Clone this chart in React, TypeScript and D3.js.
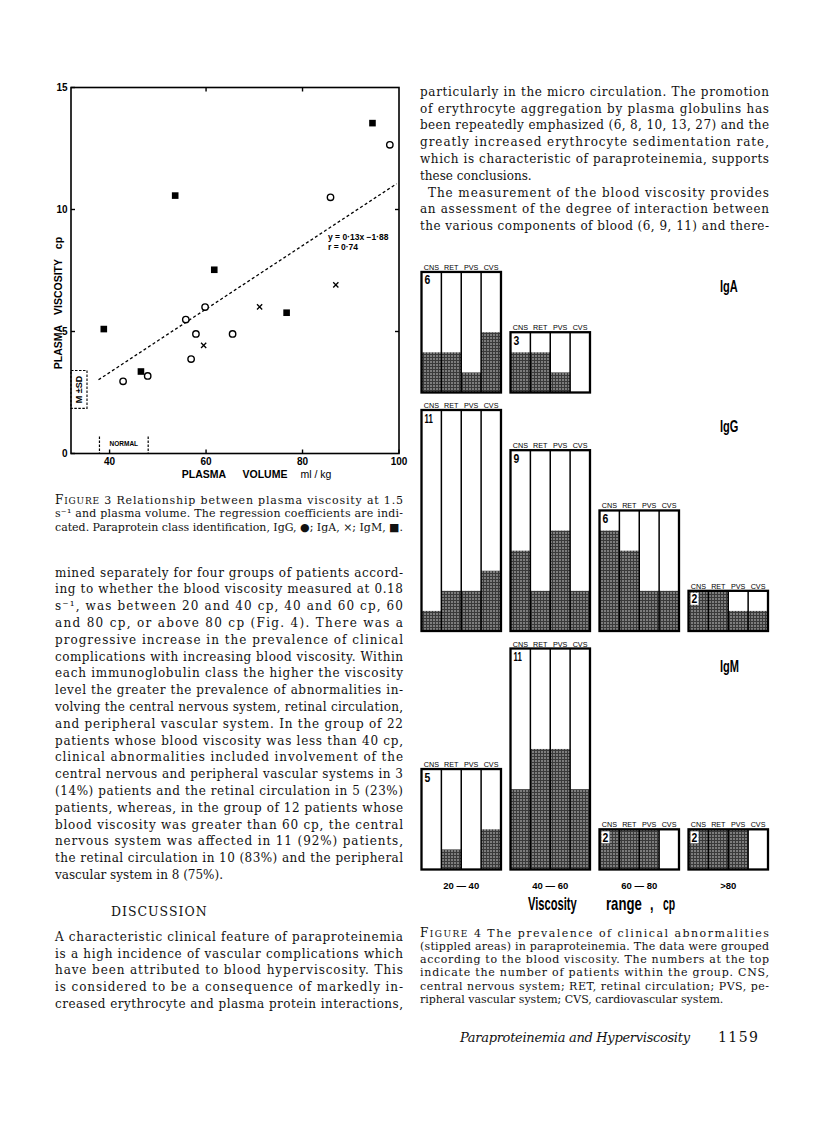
import React from 'react';
import * as d3 from 'd3';

// ---- Figure 3: plasma viscosity vs plasma volume ----
const iggVolume = [42.8, 47.9, 55.8, 57.9, 56.9, 59.8, 65.5, 85.8, 98.1];
const iggViscosity = [2.96, 3.18, 5.49, 4.9, 3.87, 6.0, 4.9, 10.5, 12.65];
const igaVolume = [59.5, 71.1, 86.9];
const igaViscosity = [4.43, 6.01, 6.91];
const igmVolume = [38.8, 53.6, 61.7, 46.5, 76.7, 94.5];
const igmViscosity = [5.1, 10.57, 7.53, 3.36, 5.77, 13.54];
const regressionSlope = 0.13;
const regressionIntercept = -1.88;
const regressionRange = [37.7, 99.5];
const normalVolume = [37.9, 48];
const normalViscosity = [1.85, 3.4];
const volumeTicks = [40, 60, 80, 100];
const viscosityTicks = [0, 5, 10, 15];

// ---- Figure 4: prevalence of abnormalities ----
const systems = ['CNS', 'RET', 'PVS', 'CVS'];
const viscosityRanges = ['20 — 40', '40 — 60', '60 — 80', '>80'];
const igClasses = ['IgA', 'IgG', 'IgM'];
const igaPatients = [6, 3];
const igaAffected = [[2, 2, 1, 3], [2, 2, 1, 0]];
const iggPatients = [11, 9, 6, 2];
const iggAffected = [[1, 2, 2, 3], [4, 2, 5, 2], [5, 4, 2, 2], [2, 2, 1, 1]];
const igmPatients = [5, 11, 2, 2];
const igmAffected = [[0, 1, 0, 2], [4, 6, 6, 4], [2, 2, 2, 0], [2, 2, 2, 0]];
const fig4AxisWords = ['Viscosity', 'range', ',', 'cp'];

// ---- page text ----
const rightTopLines = [
  'particularly in the micro circulation. The promotion',
  'of erythrocyte aggregation by plasma globulins has',
  'been repeatedly emphasized (6, 8, 10, 13, 27) and the',
  'greatly increased erythrocyte sedimentation rate,',
  'which is characteristic of paraproteinemia, supports',
  'these conclusions.',
  'The measurement of the blood viscosity provides',
  'an assessment of the degree of interaction between',
  'the various components of blood (6, 9, 11) and there-',
];
const fig3CaptionLines = [
  ' 3  Relationship between plasma viscosity at 1.5',
  's⁻¹ and plasma volume. The regression coefficients are indi-',
  'cated. Paraprotein class identification, IgG, ●; IgA, ×; IgM, ■.',
];
const leftBodyLines = [
  'mined separately for four groups of patients accord-',
  'ing to whether the blood viscosity measured at 0.18',
  's⁻¹, was between 20 and 40 cp, 40 and 60 cp, 60',
  'and 80 cp, or above 80 cp (Fig. 4). There was a',
  'progressive increase in the prevalence of clinical',
  'complications with increasing blood viscosity. Within',
  'each immunoglobulin class the higher the viscosity',
  'level the greater the prevalence of abnormalities in-',
  'volving the central nervous system, retinal circulation,',
  'and peripheral vascular system. In the group of 22',
  'patients whose blood viscosity was less than 40 cp,',
  'clinical abnormalities included involvement of the',
  'central nervous and peripheral vascular systems in 3',
  '(14%) patients and the retinal circulation in 5 (23%)',
  'patients, whereas, in the group of 12 patients whose',
  'blood viscosity was greater than 60 cp, the central',
  'nervous system was affected in 11 (92%) patients,',
  'the retinal circulation in 10 (83%) and the peripheral',
  'vascular system in 8 (75%).',
];
const discussionLines = [
  'A characteristic clinical feature of paraproteinemia',
  'is a high incidence of vascular complications which',
  'have been attributed to blood hyperviscosity. This',
  'is considered to be a consequence of markedly in-',
  'creased erythrocyte and plasma protein interactions,',
];
const fig4CaptionLines = [
  ' 4  The prevalence of clinical abnormalities',
  '(stippled areas) in paraproteinemia. The data were grouped',
  'according to the blood viscosity. The numbers at the top',
  'indicate the number of patients within the group. CNS,',
  'central nervous system; RET, retinal circulation; PVS, pe-',
  'ripheral vascular system; CVS, cardiovascular system.',
];

const serif = "'DejaVu Serif', 'Liberation Serif', serif";
const sans = "'Liberation Sans', Arial, sans-serif";

const Lines = ({ lines, x, y, width, lh, size, ragged = [], indent = {} }) => (
  <g fontFamily={serif} fontSize={size} fill="#111">
    {lines.map((t, i) => {
      const dx = indent[i] || 0;
      const just = !ragged.includes(i);
      return (
        <text key={i} x={x + dx} y={y + i * lh}
          {...(just ? { textLength: width - dx, lengthAdjust: 'spacing' } : {})}>
          {t}
        </text>
      );
    })}
  </g>
);

const Figure3 = () => {
  const x = d3.scaleLinear().domain([32, 100]).range([71, 399]);
  const y = d3.scaleLinear().domain([0, 15]).range([453.5, 87.5]);
  const regLine = d3.line()(regressionRange.map(v => [x(v), y(regressionSlope * v + regressionIntercept)]));
  return (
    <g>
      <rect x={x(32)} y={y(15)} width={x(100) - x(32)} height={y(0) - y(15)} fill="none" stroke="#000" strokeWidth={1.6} />
      {viscosityTicks.map(v => (
        <g key={v}>
          <line x1={x(32)} x2={x(32) + 4} y1={y(v)} y2={y(v)} stroke="#000" strokeWidth={1.4} />
          {v > 0 && v < 15 && <line x1={x(100)} x2={x(100) - 4} y1={y(v)} y2={y(v)} stroke="#000" strokeWidth={1.4} />}
          <text x={x(32) - 3.5} y={y(v) + 3.5} textAnchor="end" fontFamily={sans} fontWeight="bold" fontSize={10}>{v}</text>
        </g>
      ))}
      {volumeTicks.map(v => (
        <g key={v}>
          <line x1={x(v)} x2={x(v)} y1={y(0)} y2={y(0) - 4} stroke="#000" strokeWidth={1.4} />
          {v < 100 && v > 40 && <line x1={x(v)} x2={x(v)} y1={y(15)} y2={y(15) + 4} stroke="#000" strokeWidth={1.4} />}
          <text x={x(v)} y={y(0) + 11} textAnchor="middle" fontFamily={sans} fontWeight="bold" fontSize={10}>{v}</text>
        </g>
      ))}
      {/* normal range markers */}
      <rect x={x(32)} y={y(normalViscosity[1])} width={16} height={y(normalViscosity[0]) - y(normalViscosity[1])}
        fill="none" stroke="#000" strokeWidth={1.1} strokeDasharray="2.5,1.5" />
      <text transform={`translate(${x(32) + 11},${(y(normalViscosity[0]) + y(normalViscosity[1])) / 2}) rotate(-90)`}
        textAnchor="middle" fontFamily={sans} fontWeight="bold" fontSize={9}>M ±SD</text>
      {normalVolume.map(v => (
        <line key={v} x1={x(v)} x2={x(v)} y1={y(0) - 17} y2={y(0)} stroke="#000" strokeWidth={1.2} strokeDasharray="2.5,1.5" />
      ))}
      <text x={(x(normalVolume[0]) + x(normalVolume[1])) / 2} y={y(0) - 8} textAnchor="middle"
        fontFamily={sans} fontWeight="bold" fontSize={6.5}>NORMAL</text>
      <path d={regLine} fill="none" stroke="#000" strokeWidth={1.3} strokeDasharray="3,2.4" />
      <text x={328} y={240} fontFamily={sans} fontWeight="bold" fontSize={8.5}>y  =  0·13x −1·88</text>
      <text x={328} y={249.5} fontFamily={sans} fontWeight="bold" fontSize={8.5}>r   =  0·74</text>
      {igmVolume.map((v, i) => (
        <rect key={'m' + i} x={x(v) - 3.3} y={y(igmViscosity[i]) - 3.3} width={6.6} height={6.6} fill="#000" />
      ))}
      {iggVolume.map((v, i) => (
        <circle key={'g' + i} cx={x(v)} cy={y(iggViscosity[i])} r={3.2} fill="#fff" stroke="#000" strokeWidth={1.4} />
      ))}
      {igaVolume.map((v, i) => (
        <path key={'a' + i} d={`M${x(v) - 2.6},${y(igaViscosity[i]) - 2.6}l5.2,5.2M${x(v) + 2.6},${y(igaViscosity[i]) - 2.6}l-5.2,5.2`}
          stroke="#000" strokeWidth={1.3} />
      ))}
      <g fontFamily={sans} fontWeight="bold" fontSize={10.5} textAnchor="middle">
        <text transform="translate(61.5,347) rotate(-90)">PLASMA</text>
        <text transform="translate(61.5,287) rotate(-90)">VISCOSITY</text>
        <text transform="translate(61.5,243) rotate(-90)">cp</text>
        <text x={204} y={478}>PLASMA</text>
        <text x={265} y={478}>VOLUME</text>
        <text x={316} y={478} fontWeight="normal">ml / kg</text>
      </g>
    </g>
  );
};

const Figure4 = () => {
  const xr = d3.scaleBand().domain(viscosityRanges).range([421.5, 768]).paddingInner(0.107);
  const xs = d3.scaleBand().domain(systems).range([0, xr.bandwidth()]);
  const h = d3.scaleLinear().domain([0, 11]).range([0, 221]);
  const base = d3.scalePoint().domain(igClasses).range([392.5, 869.5]);
  const classData = [
    { name: 'IgA', patients: igaPatients, affected: igaAffected, labelUp: 107 },
    { name: 'IgG', patients: iggPatients, affected: iggAffected, labelUp: 205 },
    { name: 'IgM', patients: igmPatients, affected: igmAffected, labelUp: 204 },
  ];
  // left edge and horizontal squeeze of each word of the axis title
  const wordPos = [[528, 0.62], [606, 0.73], [650, 0.7], [663, 0.58]];
  return (
    <g>
      <defs>
        <pattern id="stipple" width={3} height={3} patternUnits="userSpaceOnUse">
          <rect width={3} height={3} fill="#7d7d7d" />
          <rect width={3} height={1} fill="#3a3a3a" />
          <rect width={1} height={3} fill="#3a3a3a" />
        </pattern>
      </defs>
      {classData.map(c => {
        const b = base(c.name);
        return (
          <g key={c.name}>
            {c.patients.map((n, gi) => {
              const left = xr(viscosityRanges[gi]);
              const top = b - h(n);
              return (
                <g key={gi}>
                  <rect x={left} y={top} width={xr.bandwidth()} height={h(n)} fill="#fff" />
                  {systems.map((s, si) => (
                    <rect key={s} x={left + xs(s)} y={b - h(c.affected[gi][si])} width={xs.bandwidth()}
                      height={h(c.affected[gi][si])} fill="url(#stipple)" />
                  ))}
                  {systems.slice(1).map(s => (
                    <line key={s} x1={left + xs(s)} x2={left + xs(s)} y1={top} y2={b} stroke="#000" strokeWidth={1.5} />
                  ))}
                  <rect x={left} y={top} width={xr.bandwidth()} height={h(n)} fill="none" stroke="#000" strokeWidth={2.3} />
                  {systems.map(s => (
                    <text key={s} x={left + xs(s) + xs.bandwidth() / 2} y={top - 2} textAnchor="middle"
                      fontFamily={sans} fontSize={7.2}>{s}</text>
                  ))}
                  <rect x={left + 2} y={top + 2} width={n > 9 ? 11 : 8} height={12} fill="#fff" />
                  <text transform={`translate(${left + 3},${top + 12.5}) scale(${n > 9 ? 0.6 : 0.8},1)`}
                    fontFamily={sans} fontWeight="bold" fontSize={13}>{n}</text>
                </g>
              );
            })}
            <text transform={`translate(720,${b - c.labelUp + 6}) scale(0.65,1)`} fontFamily={sans} fontWeight="bold"
              fontSize={17}>{c.name}</text>
          </g>
        );
      })}
      {viscosityRanges.map(r => (
        <text key={r} x={xr(r) + xr.bandwidth() / 2} y={888.5} textAnchor="middle" fontFamily={sans}
          fontWeight="bold" fontSize={9.5}>{r}</text>
      ))}
      <g fontFamily={sans} fontWeight="bold" fontSize={18}>
        {fig4AxisWords.map((w, i) => (
          <text key={i} transform={`translate(${wordPos[i][0]},909.5) scale(${wordPos[i][1]},1)`}>{w}</text>
        ))}
      </g>
    </g>
  );
};

const App = () => {
  const L = 55, LW = 348, R = 420, RW = 349;
  return (
    <svg width={816} height={1144} style={{ position: 'absolute', left: 0, top: 0, background: '#fff' }}>
      <rect width={816} height={1144} fill="#fff" />
      <Figure3 />
      <Figure4 />
      <Lines lines={rightTopLines} x={R} y={95.7} width={RW} lh={16.8} size={12} ragged={[5]} indent={{ 6: 8 }} />
      {/* Figure 3 caption */}
      <g fontFamily={serif} fontSize={11} fill="#111">
        <text x={L} y={504} textLength={LW} lengthAdjust="spacing">
          <tspan fontSize={12}>F</tspan><tspan fontSize={9}>IGURE</tspan>{fig3CaptionLines[0]}
        </text>
        {fig3CaptionLines.slice(1).map((t, i) => (
          <text key={i} x={L} y={517.3 + i * 13.3} textLength={LW} lengthAdjust="spacing">{t}</text>
        ))}
      </g>
      <Lines lines={leftBodyLines} x={L} y={576.5} width={LW} lh={16.8} size={12} ragged={[18]} />
      <text x={111} y={915.5} fontFamily={serif} fontSize={12.5} letterSpacing={1} fill="#111">DISCUSSION</text>
      <Lines lines={discussionLines} x={L} y={940.7} width={LW} lh={16.8} size={12} />
      {/* Figure 4 caption */}
      <g fontFamily={serif} fontSize={11} fill="#111">
        <text x={R} y={936.5} textLength={RW} lengthAdjust="spacing">
          <tspan fontSize={12}>F</tspan><tspan fontSize={9}>IGURE</tspan>{fig4CaptionLines[0]}
        </text>
        {fig4CaptionLines.slice(1).map((t, i) => (
          <text key={i} x={R} y={949.8 + i * 13.3} {...(i < 4 ? { textLength: RW, lengthAdjust: 'spacing' } : {})}>{t}</text>
        ))}
      </g>
      <text x={460} y={1041.5} fontFamily={serif} fontStyle="italic" fontSize={13} textLength={230} lengthAdjust="spacing" fill="#111">
        Paraproteinemia and Hyperviscosity
      </text>
      <text x={718} y={1041.5} fontFamily={serif} fontSize={14} textLength={40} lengthAdjust="spacing" fill="#111">1159</text>
    </svg>
  );
};

export default App;
